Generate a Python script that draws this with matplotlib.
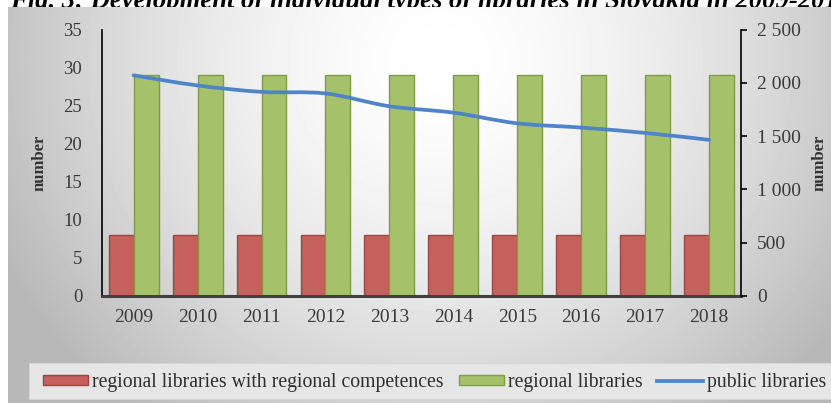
import numpy as np
import matplotlib
matplotlib.use("Agg")
import matplotlib.pyplot as plt
from matplotlib.patches import Rectangle, Patch, PathPatch
from matplotlib.lines import Line2D
from matplotlib.path import Path

# ---- data -------------------------------------------------------------
years = ["2009", "2010", "2011", "2012", "2013", "2014", "2015", "2016", "2017", "2018"]
regional_competences = [8, 8, 8, 8, 8, 8, 8, 8, 8, 8]
regional_libraries = [29, 29, 29, 29, 29, 29, 29, 29, 29, 29]
public_libraries = [2070, 1975, 1915, 1900, 1780, 1720, 1620, 1580, 1530, 1465]

left_ticks = [0, 5, 10, 15, 20, 25, 30, 35]
right_ticks = [0, 500, 1000, 1500, 2000, 2500]
right_tick_labels = ["0", "500", "1 000", "1 500", "2 000", "2 500"]

series_labels = ["regional libraries with regional competences",
                 "regional libraries", "public libraries"]
title = "Fig. 3: Development of individual types of libraries in Slovakia in 2009-2018"

# ---- style -------------------------------------------------------------
plt.rcParams["font.family"] = ["Liberation Serif", "DejaVu Serif"]
RED, RED_EDGE = "#C5605D", "#A04542"
GREEN, GREEN_EDGE = "#A5C26A", "#7E9E46"
BLUE = "#4F85C8"
TXT = "#3A3A3A"

W, H = 831, 403
fig = plt.figure(figsize=(W / 100, H / 100), dpi=100)
fig.patch.set_facecolor("white")

def fx(px):
    return px / W

def fy(py):
    return 1 - py / H

# radial grey gradient behind the chart
x0, y0 = 8, 7.3
gx = np.arange(x0, W) + 0.5
gy = np.arange(y0, H) + 0.5
XX, YY = np.meshgrid(gx, gy)
r = np.sqrt(((XX - 440) / 440) ** 2 + ((YY - 60) / 420) ** 2)
grad = 1 - 0.24 * np.clip(r, 0, 1.1) ** 1.6
bg = fig.add_axes([fx(x0), 0, 1 - fx(x0), 1 - y0 / H], zorder=-5)
bg.imshow(grad, cmap="gray", vmin=0, vmax=1, aspect="auto", interpolation="bilinear")
bg.axis("off")

# legend band
fig.patches.append(Rectangle((fx(29), fy(399)), 1 - fx(29), (399 - 363) / H,
                             transform=fig.transFigure, facecolor="#E6E6E6",
                             edgecolor="#D6D6D6", lw=0.8, zorder=-4))

# caption sitting above (and partly under) the chart panel
fig.text(fx(10), fy(8), title, fontsize=19.2, fontweight="bold", fontstyle="italic",
         color="black", ha="left", va="baseline", zorder=-10)

# ---- main axes ---------------------------------------------------------
ax = fig.add_axes([fx(101.7), fy(296), fx(741) - fx(101.7), (296 - 29.5) / H])
ax.set_facecolor("none")
ax2 = ax.twinx()

x = np.arange(len(years))
w = 0.39
ax.bar(x - w / 2, regional_competences, w, color=RED, edgecolor=RED_EDGE, lw=1.0, zorder=2)
ax.bar(x + w / 2, regional_libraries, w, color=GREEN, edgecolor=GREEN_EDGE, lw=1.0, zorder=2)

# smoothed public-library line (cubic Bezier through the yearly values)
pts = np.column_stack([x, public_libraries]).astype(float)
verts = [tuple(pts[0])]
codes = [Path.MOVETO]
n = len(pts)
for i in range(n - 1):
    p0 = pts[i - 1] if i > 0 else pts[i]
    p1, p2 = pts[i], pts[i + 1]
    p3 = pts[i + 2] if i + 2 < n else pts[i + 1]
    c1 = p1 + (p2 - p0) / 6
    c2 = p2 - (p3 - p1) / 6
    verts += [tuple(c1), tuple(c2), tuple(p2)]
    codes += [Path.CURVE4] * 3
ax2.add_patch(PathPatch(Path(verts, codes), facecolor="none", edgecolor=BLUE,
                        lw=2.7, capstyle="round", joinstyle="round", zorder=3))

ax.set_xlim(-0.5, len(years) - 0.5)
ax.set_ylim(0, 35)
ax2.set_ylim(0, 2500)

ax.set_xticks(x)
ax.set_xticklabels(years)
ax.set_yticks(left_ticks)
ax2.set_yticks(right_ticks)
ax2.set_yticklabels(right_tick_labels)

for sp in ("top", "right"):
    ax.spines[sp].set_visible(False)
ax.spines["left"].set_color("black")
ax.spines["left"].set_linewidth(1.2)
ax.spines["bottom"].set_color("#404040")
ax.spines["bottom"].set_linewidth(2.2)
for sp in ("top", "left", "bottom"):
    ax2.spines[sp].set_visible(False)
ax2.spines["right"].set_color("black")
ax2.spines["right"].set_linewidth(1.2)

ax.tick_params(axis="y", length=0, pad=14, labelsize=13.5, labelcolor=TXT)
ax.tick_params(axis="x", length=0, pad=9, labelsize=14, labelcolor=TXT)
ax2.tick_params(axis="y", length=4.5, width=1.2, color="black", direction="out",
                pad=7, labelsize=14, labelcolor=TXT)

ax.set_ylabel("number", fontsize=12, fontweight="bold", color="#333333")
ax.yaxis.set_label_coords(-0.084, 0.5)
ax2.set_ylabel("number", fontsize=12, fontweight="bold", color="#333333", rotation=90)
ax2.yaxis.set_label_coords(1.111, 0.5)

# ---- legend ------------------------------------------------------------
handles = [Patch(facecolor=RED, edgecolor=RED_EDGE, lw=1.0),
           Patch(facecolor=GREEN, edgecolor=GREEN_EDGE, lw=1.0),
           Line2D([0], [0], color=BLUE, lw=2.7)]
leg = fig.legend(handles, series_labels, loc="center left",
                 bbox_to_anchor=(fx(43), fy(382.5)), ncol=3, frameon=False,
                 fontsize=14.2, handlelength=2.3, handleheight=0.47,
                 handletextpad=0.2, columnspacing=0.75, borderpad=0,
                 borderaxespad=0, labelcolor="#2E2E2E")

fig.savefig("out.png", dpi=100)
